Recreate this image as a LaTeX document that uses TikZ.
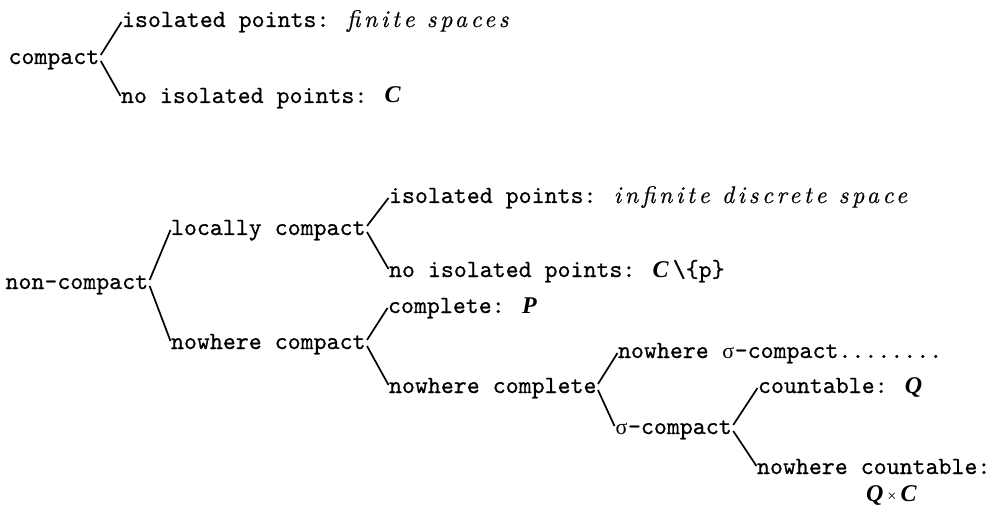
\documentclass[tikz,border=0pt]{standalone}
\usepackage{fontspec}
\newfontfamily\lmtt[FakeBold=0.6]{lmmono10-regular.otf}
\newfontfamily\tnr{Liberation Serif}
\newfontfamily\lmit[LetterSpace=15,FakeBold=0.5]{lmroman10-italic.otf}
\newcommand\mono{\lmtt\fontsize{24.7}{26}\selectfont}
\newcommand\itx[1]{{\lmit\fontsize{24}{26}\selectfont #1}}
\newcommand\bfi[1]{{\tnr\fontsize{24}{24}\selectfont\bfseries\itshape #1}}
\newcommand\sgm{\makebox[12.97pt]{\tnr\fontsize{22}{24}\selectfont σ}}
\begin{document}
\begin{tikzpicture}[x=1pt,y=1pt,
  lbl/.style={anchor=base west,inner sep=0pt,outer sep=0pt,font=\mono},
  br/.style={line width=1.7pt}]
\useasboundingbox (0,0) rectangle (993,-505);
% first tree
\node[lbl] (c)  at (8.5,-64) {compact};
\node[lbl] (ci) at (122,-27) {isolated points: \itx{finite spaces}};
\node[lbl] (cn) at (121,-103) {no isolated points: \bfi{C}};
% second tree
\node[lbl] (nc) at (5.5,-289) {non-compact};
\node[lbl] (lc) at (171,-235) {locally compact};
\node[lbl] (li) at (389,-203) {isolated points: \itx{infinite discrete space}};
\node[lbl] (ln) at (389,-277) {no isolated points: \bfi{C}\,\textbackslash\{p\}};
\node[lbl] (wc) at (171,-349) {nowhere compact};
\node[lbl] (cp) at (388,-313) {complete: \bfi{P}};
\node[lbl] (wl) at (389,-393) {nowhere complete};
\node[lbl] (ws) at (618,-358) {nowhere \sgm-compact........};
\node[lbl] (sc) at (615,-434) {\sgm-compact};
\node[lbl] (ct) at (758,-393) {countable: \bfi{Q}};
\node[lbl] (wn) at (757,-474) {nowhere countable:};
\node[lbl] (qc) at (866,-501) {\bfi{Q}\,{\tnr\fontsize{16}{18}\selectfont ×}\,\bfi{C}};
% connectors
\draw[br] ([xshift=1.5pt,yshift=9pt]c.base east) -- ([xshift=-0.5pt,yshift=5pt]ci.base west);
\draw[br] ([xshift=1.5pt,yshift=3pt]c.base east) -- ([xshift=-0.5pt,yshift=7pt]cn.base west);
\draw[br] ([xshift=1.5pt,yshift=9pt]nc.base east) -- ([xshift=-0.5pt,yshift=5pt]lc.base west);
\draw[br] ([xshift=1.5pt,yshift=3pt]nc.base east) -- ([xshift=-0.5pt,yshift=8pt]wc.base west);
\draw[br] ([xshift=1.5pt,yshift=9pt]lc.base east) -- ([xshift=-0.5pt,yshift=5pt]li.base west);
\draw[br] ([xshift=1.5pt,yshift=3pt]lc.base east) -- ([xshift=-0.5pt,yshift=8pt]ln.base west);
\draw[br] ([xshift=1.5pt,yshift=9pt]wc.base east) -- ([xshift=-0.5pt,yshift=5pt]cp.base west);
\draw[br] ([xshift=1.5pt,yshift=3pt]wc.base east) -- ([xshift=-0.5pt,yshift=8pt]wl.base west);
\draw[br] ([xshift=1.5pt,yshift=9pt]wl.base east) -- ([xshift=-0.5pt,yshift=5pt]ws.base west);
\draw[br] ([xshift=1.5pt,yshift=3pt]wl.base east) -- ([xshift=-0.5pt,yshift=8pt]sc.base west);
\draw[br] ([xshift=1.5pt,yshift=9pt]sc.base east) -- ([xshift=-0.5pt,yshift=5pt]ct.base west);
\draw[br] ([xshift=1.5pt,yshift=3pt]sc.base east) -- ([xshift=-0.5pt,yshift=8pt]wn.base west);
\end{tikzpicture}
\end{document}
